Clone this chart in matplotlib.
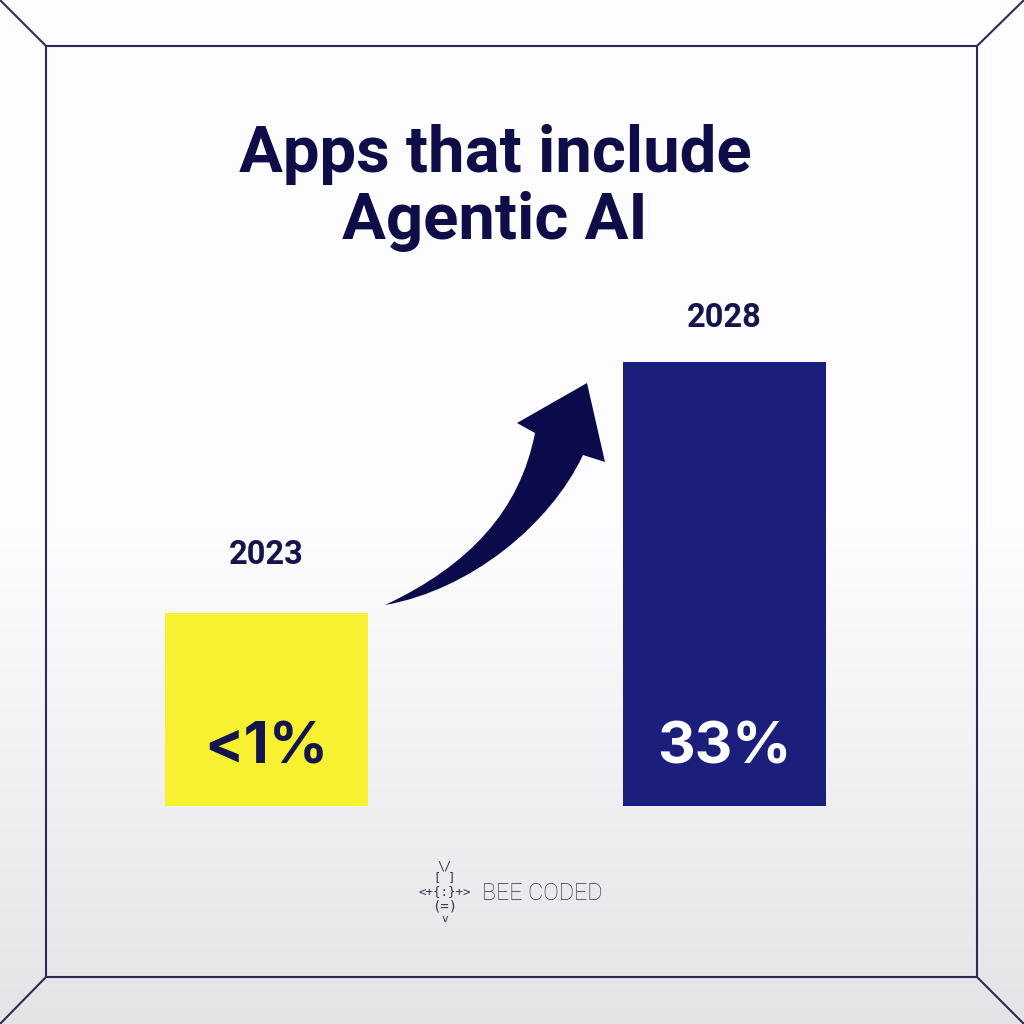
import numpy as np
import matplotlib
matplotlib.use("Agg")
import matplotlib.pyplot as plt
from matplotlib.path import Path
from matplotlib.patches import PathPatch

# ---- data ----
title = "Apps that include\nAgentic AI"
years = ["2023", "2028"]
value_labels = ["<1%", "33%"]
display_heights = [0.435, 1.0]   # relative bar heights as drawn in the picture
bar_colors = ["#F7F132", "#1B1F7B"]
value_text_colors = ["#14154A", "#FFFFFF"]
brand = "BEE CODED"

W = H = 1024
fig = plt.figure(figsize=(10.24, 10.24), dpi=100)

# background / decoration axes in pixel coords (y down)
bg = fig.add_axes([0, 0, 1, 1])
bg.set_xlim(0, W)
bg.set_ylim(H, 0)
bg.axis("off")

# vertical gradient
ys = np.linspace(0, 1, 256)
top = np.array([0.995, 0.995, 1.0])
bot = np.array([0.895, 0.895, 0.905])
t = np.clip((ys - 0.50) / 0.50, 0, 1)
grad = top[None, :] * (1 - t[:, None]) + bot[None, :] * t[:, None]
img = np.repeat(grad[:, None, :], 2, axis=1)
bg.imshow(img, extent=[0, W, H, 0], aspect="auto", zorder=0)

# frame
fc = "#2B2B58"
lw = 1.5
bg.plot([46, 977, 977, 46, 46], [46, 46, 977, 977, 46], color=fc, lw=lw, zorder=1)
bg.plot([0, 46], [0, 46], color=fc, lw=lw, zorder=1)
bg.plot([1024, 977], [0, 46], color=fc, lw=lw, zorder=1)
bg.plot([0, 46], [1024, 977], color=fc, lw=lw, zorder=1)
bg.plot([1024, 977], [1024, 977], color=fc, lw=lw, zorder=1)

# title
bg.text(495, 188, title, ha="center", va="center", fontsize=47, fontweight="bold",
        family=["Roboto", "DejaVu Sans"], color="#0F0D48", linespacing=1.12, zorder=3)

# curved arrow
verts = [
    (385, 605),
    (470, 565), (520, 510), (535, 433),
    (517, 423),
    (587, 383),
    (605, 462),
    (583, 455),
    (550, 525), (470, 590), (385, 605),
    (385, 605),
]
codes = [Path.MOVETO,
         Path.CURVE4, Path.CURVE4, Path.CURVE4,
         Path.LINETO, Path.LINETO, Path.LINETO, Path.LINETO,
         Path.CURVE4, Path.CURVE4, Path.CURVE4,
         Path.CLOSEPOLY]
bg.add_patch(PathPatch(Path(verts, codes), facecolor="#0B0A4B", edgecolor="none", zorder=3))

# brand logo
logo_c = "#34344E"
bg.text(482, 893, brand, ha="left", va="center", fontsize=16.8, fontweight="light",
        family=["Roboto", "DejaVu Sans"], color=logo_c, zorder=3)
mono = ["DejaVu Sans Mono"]
bg.text(445, 866, "\\/", ha="center", va="center", fontsize=8.5, family=mono, color=logo_c)
bg.text(445, 878, "[ ]", ha="center", va="center", fontsize=8.5, family=mono, color=logo_c)
bg.text(445, 892, "<+{:}+>", ha="center", va="center", fontsize=9, family=mono, color=logo_c)
bg.text(445, 907, "(=)", ha="center", va="center", fontsize=10, family=mono, color=logo_c)
bg.text(445, 919, "v", ha="center", va="center", fontsize=8, family=mono, color=logo_c)

# bar axes: x centres at px 266.5 and 724.5, bottom at 806, full height 444 px
x0_px = 266.5 - 229
ax = fig.add_axes([x0_px / W, (H - 806) / H, 916 / W, 444 / H])
ax.set_xlim(-0.5, 1.5)
ax.set_ylim(0, 1.0)
ax.axis("off")
ax.patch.set_alpha(0)
xs = np.arange(len(years))
bars = ax.bar(xs, display_heights, width=203 / 458, color=bar_colors, zorder=2)

year_offsets = [58, 44]
for i, (x, h) in enumerate(zip(xs, display_heights)):
    ax.annotate(years[i], (x, h), xytext=(0, year_offsets[i]), textcoords="offset pixels",
                ha="center", va="center", fontsize=23.5, fontweight="bold",
                family=["Roboto", "DejaVu Sans"], color="#14154A")
    ax.annotate(value_labels[i], (x, 0), xytext=(0, 58), textcoords="offset pixels",
                ha="center", va="center", fontsize=42, fontweight="bold",
                family=["Inter", "DejaVu Sans"], color=value_text_colors[i])

fig.savefig("out.png", dpi=100)
